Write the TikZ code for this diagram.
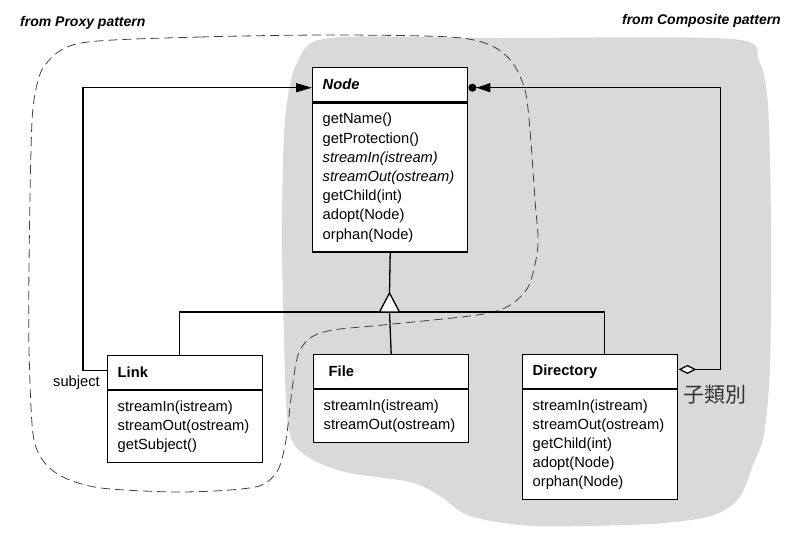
\documentclass[tikz,border=0pt]{standalone}
\usepackage{fontspec}
\setmainfont{Liberation Sans}
\newfontfamily\cjkfont{Noto Sans CJK TC}
\usetikzlibrary{arrows.meta}

\begin{document}
\begin{tikzpicture}[x=1pt,y=-1pt,
  txt/.style={font=\fontsize{14.7}{19.2}\selectfont},
  box/.style={txt, draw, fill=white, line width=1.4pt, text width=135pt,
    inner xsep=10pt, inner ysep=0pt, align=left, anchor=north west},
  classhead/.style={box, minimum height=33.5pt,
    font=\fontsize{14.7}{19.2}\selectfont\bfseries},
  classbody/.style={box},
  wire/.style={line width=1.3pt},
  title/.style={font=\fontsize{14}{16}\selectfont\bfseries\itshape, inner sep=0pt},
  region/.style={fill=black!15},
  border/.style={draw=black!75, line width=0.8pt, dash pattern=on 9pt off 5pt},
]
\useasboundingbox (0,0) rectangle (807,535);

% shaded area of the Composite pattern
\fill[region] plot[smooth cycle, tension=0.5] coordinates {
  (330,38) (500,38) (732,39) (759,61) (768,106) (771,227) (770,365)
  (764,434) (753,465) (739,498) (711,516) (650,524) (534,526) (470,516)
  (440,496) (410,482) (345,472) (305,455) (288,425) (283,300) (282,220)
  (285,120) (297,63)};

% dashed outline of the Proxy pattern
\draw[border] plot[smooth cycle, tension=0.5] coordinates {
  (81,43) (200,37) (333,35) (450,37) (490,45) (512,62) (525,90) (530,130)
  (535,200) (538,245) (530,283) (517,300) (500,310) (470,316) (383,325)
  (333,330) (310,338) (298,355) (292,390) (286,440) (278,470) (262,485)
  (230,490) (173,492) (101,488) (65,478) (44,462) (33,434) (29,350)
  (29,266) (31,150) (34,100) (45,65)};

% titles
\node[title, anchor=west] (proxyT) at (20,23) {from Proxy pattern};
\node[title, anchor=east] (compT) at (781,21) {from Composite pattern};

% classes
\node[classhead, minimum height=34pt] (nodeH) at (312,67) {\textit{Node}};
\node[classbody, minimum height=149pt] (nodeB) at (nodeH.south west)
  {getName()\\getProtection()\\\textit{streamIn(istream)}\\\textit{streamOut(ostream)}\\getChild(int)\\adopt(Node)\\orphan(Node)};

\node[classhead] (linkH) at (107,355) {Link};
\node[classbody, minimum height=72pt] (linkB) at (linkH.south west)
  {streamIn(istream)\\streamOut(ostream)\\getSubject()};

\node[classhead] (fileH) at (313,354) {\hspace*{5pt}File};
\node[classbody, minimum height=53pt] (fileB) at (fileH.south west)
  {streamIn(istream)\\streamOut(ostream)};

\node[classhead] (dirH) at (522,354) {Directory};
\node[classbody, minimum height=110pt] (dirB) at (dirH.south west)
  {streamIn(istream)\\streamOut(ostream)\\getChild(int)\\adopt(Node)\\orphan(Node)};

% inheritance
\coordinate (inh) at (389.5,312);
\draw[wire] ([xshift=-6pt]linkH.north) |- (inh) -| ([xshift=4pt]dirH.north);
\draw[wire] (inh) -- (fileH.north);
\draw[wire] (nodeB.south) -- ([yshift=19pt]inh);
\draw[wire, fill=white, line join=miter]
  ([yshift=19pt]inh) -- ([xshift=-10pt]inh) -- ([xshift=10pt]inh) -- cycle;

% subject reference
\draw[wire, -{Triangle[length=16pt,width=9pt]}]
  ([yshift=2pt]linkH.west) -- ++(-24pt,0) |- ([yshift=-3pt]nodeH.west);
\node[txt, anchor=east, inner sep=0pt] (subj) at (100,383) {subject};

% children aggregation
\draw[wire, {Diamond[length=18pt,width=9pt,fill=white]}-{Triangle[length=14pt,width=9pt]Circle[length=8pt]}]
  ([yshift=2pt]dirH.east) -- ++(42pt,0) |- ([yshift=-3pt]nodeH.east);
\node[anchor=west, inner sep=0pt, text=black!80, font=\cjkfont\fontsize{21}{24}\selectfont]
  (sub) at (683,395) {子類別};
\end{tikzpicture}
\end{document}
